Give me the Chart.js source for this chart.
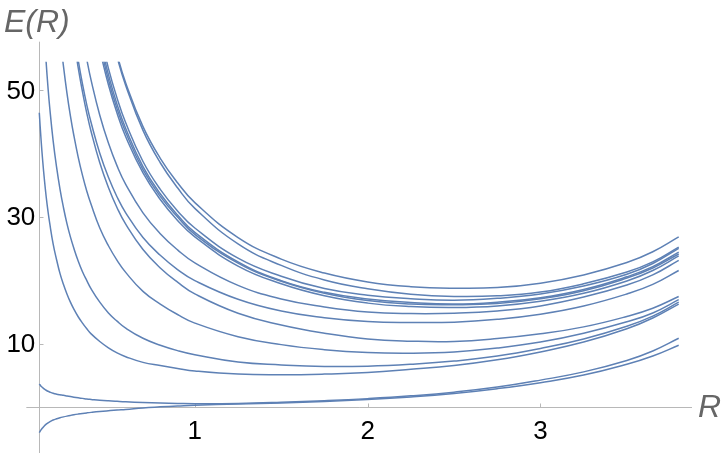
<!DOCTYPE html>
<html><head><meta charset="utf-8">
<script src="https://cdn.jsdelivr.net/npm/chart.js@4.4.0/dist/chart.umd.min.js"></script>
<style>html,body{margin:0;padding:0;background:#fff;} #wrap{width:723px;height:454px;position:relative;}</style>
</head><body><div id="wrap"><canvas id="c"></canvas></div>
<script>
// R sample points shared by every curve
const rGrid = [0.1,0.11,0.12,0.13,0.14,0.15,0.16,0.18,0.2,0.22,0.24,0.26,0.28,0.3,0.325,0.35,0.375,0.4,0.45,0.5,0.55,0.6,0.7,0.8,0.9,1.0,1.25,1.5,1.75,2.0,2.25,2.5,2.75,3.0,3.25,3.5,3.65,3.8];
const N = null;
// lowest pair
const curveB1 = [3.7,3.35,3.1,2.88,2.7,2.54,2.42,2.22,2.08,1.98,1.9,1.8,1.7,1.6,1.5,1.42,1.33,1.26,1.13,1.03,0.95,0.88,0.78,0.7,0.63,0.58,0.62,0.8,1.05,1.38,1.82,2.4,3.2,4.3,5.6,7.4,8.9,10.9];
const curveB2 = [-4.0,-3.55,-3.2,-2.9,-2.65,-2.45,-2.28,-2.0,-1.8,-1.63,-1.5,-1.38,-1.27,-1.17,-1.06,-0.96,-0.87,-0.79,-0.65,-0.53,-0.42,-0.33,-0.08,0.08,0.22,0.35,0.52,0.7,0.93,1.25,1.65,2.2,2.95,3.9,5.1,6.8,8.1,9.8];
// middle group
const curveM1 = [46.5,42.3,38.8,35.8,33.2,31.0,29.1,25.8,23.3,21.1,19.4,17.9,16.6,15.5,14.3,13.3,12.4,11.6,10.4,9.4,8.6,8.0,7.1,6.6,6.15,5.75,5.25,5.15,5.25,5.5,6.0,6.6,7.5,8.75,10.3,12.4,14.1,16.3];
const curveM2 = [N,N,63.4,58.5,54.3,50.6,47.4,42.1,37.9,34.4,31.5,29.0,26.9,25.1,23.1,21.4,20.0,18.7,16.6,14.9,13.6,12.5,10.9,9.8,8.95,8.3,7.15,6.7,6.45,6.5,6.8,7.3,8.1,9.3,10.8,12.8,14.4,16.6];
const curveM3 = [N,N,N,N,N,N,N,N,64.7,58.7,53.8,49.6,46.0,42.9,39.5,36.6,34.1,32.0,28.3,25.5,23.2,21.3,18.3,16.3,14.65,13.3,11.15,9.9,9.1,8.65,8.55,8.75,9.35,10.3,11.7,13.5,14.9,17.0];
const curveM4 = [N,N,N,N,N,N,N,N,N,N,N,N,N,58.2,53.6,49.8,46.4,43.5,38.6,34.7,31.5,28.9,24.9,22.0,19.75,17.9,14.85,13.0,11.7,10.8,10.45,10.4,10.85,11.6,12.7,14.35,15.65,17.5];
// upper group
const curveT1 = [N,N,N,N,N,N,N,N,N,N,N,N,N,59.3,54.8,51.0,47.7,44.9,40.1,36.3,33.2,30.7,26.8,24.0,21.75,20.0,17.05,15.2,14.15,13.55,13.4,13.45,13.9,14.7,16.0,17.9,19.4,21.6];
const curveT2 = [N,N,N,N,N,N,N,N,N,N,N,N,N,N,N,58.7,54.9,51.6,46.1,41.7,38.1,35.2,30.7,27.4,24.85,22.8,19.25,17.1,15.85,15.05,14.8,14.85,15.2,16.0,17.4,19.3,20.9,23.2];
const curveT3 = [N,N,N,N,N,N,N,N,N,N,N,N,N,N,N,N,N,N,56.4,50.9,46.4,42.7,37.0,32.8,29.5,26.9,22.3,19.5,17.6,16.45,15.9,15.75,16.0,16.75,18.0,19.95,21.6,23.9];
const curveT4 = [N,N,N,N,N,N,N,N,N,N,N,N,N,N,N,N,N,N,57.3,51.7,47.1,43.4,37.5,33.3,30.05,27.3,22.75,19.9,18.0,16.85,16.3,16.2,16.4,17.15,18.4,20.4,22.0,24.2];
const curveT5 = [N,N,N,N,N,N,N,N,N,N,N,N,N,N,N,N,N,N,58.2,52.5,47.8,44.0,38.0,33.7,30.35,27.6,22.95,20.0,18.15,17.1,16.55,16.3,16.6,17.3,18.6,20.6,22.2,24.5];
const curveT6 = [N,N,N,N,N,N,N,N,N,N,N,N,N,N,N,N,N,N,59.4,53.5,48.8,44.9,38.8,34.4,31.0,28.3,23.55,20.7,18.75,17.7,17.15,16.9,17.2,17.9,19.15,21.0,22.7,25.1];
const curveT7 = [N,N,N,N,N,N,N,N,N,N,N,N,N,N,N,N,N,N,N,61.1,55.7,51.2,44.3,39.3,35.45,32.3,26.8,23.4,21.2,19.8,19.05,18.8,18.9,19.6,20.9,22.85,24.55,26.9];
const curveT8 = [N,N,N,N,N,N,N,N,N,N,N,N,N,N,N,N,N,N,N,60.8,55.3,50.8,43.7,38.6,34.65,31.4,25.8,22.4,20.1,18.7,17.85,17.5,17.6,18.2,19.5,21.35,22.95,25.3];

const allCurves = [curveB1,curveB2,curveM1,curveM2,curveM3,curveM4,curveT1,curveT2,curveT3,curveT4,curveT5,curveT6,curveT7,curveT8];
const xTicks = [1,2,3];
const yTicks = [10,30,50];
const xTitle = 'R';
const yTitle = 'E(R)';
const xMin = 0.1, xMax = 3.877, yMin = -7.2, yMax = 57.7;

const lineColor = '#5E81B5';
const axisColor = '#b8b8b8';

const axesPlugin = {
  id: 'mmaAxes',
  beforeDatasetsDraw(chart) {
    const {ctx, scales: {x, y}} = chart;
    const y0 = Math.round(y.getPixelForValue(0)) + 0.5;
    const xl = Math.round(x.getPixelForValue(xMin)) + 0.5;
    ctx.save();
    ctx.strokeStyle = axisColor;
    ctx.lineWidth = 1;
    ctx.beginPath();
    ctx.moveTo(x.getPixelForValue(0.025), y0);
    ctx.lineTo(x.getPixelForValue(xMax), y0);
    ctx.moveTo(xl, y.getPixelForValue(yMax));
    ctx.lineTo(xl, y.getPixelForValue(yMin));
    xTicks.forEach(t => { const px = Math.round(x.getPixelForValue(t)) + 0.5; ctx.moveTo(px, y0); ctx.lineTo(px, y0 - 4); });
    yTicks.forEach(t => { const py = Math.round(y.getPixelForValue(t)) + 0.5; ctx.moveTo(xl, py); ctx.lineTo(xl + 4, py); });
    ctx.stroke();
    ctx.restore();
  },
  afterDraw(chart) {
    const {ctx, scales: {x, y}} = chart;
    const y0 = y.getPixelForValue(0);
    const xl = x.getPixelForValue(xMin);
    ctx.save();
    ctx.fillStyle = '#000';
    ctx.font = '26px "Liberation Sans", Arial, sans-serif';
    ctx.textAlign = 'center';
    ctx.textBaseline = 'middle';
    xTicks.forEach(t => ctx.fillText(String(t), x.getPixelForValue(t), y0 + 24));
    ctx.textAlign = 'right';
    yTicks.forEach(t => ctx.fillText(String(t), xl - 4, y.getPixelForValue(t) + 1));
    ctx.fillStyle = '#666';
    ctx.font = 'italic 32px "Liberation Sans", Arial, sans-serif';
    ctx.textAlign = 'left';
    ctx.textBaseline = 'alphabetic';
    ctx.fillText(yTitle, 4, 32);
    ctx.textBaseline = 'middle';
    ctx.fillText(xTitle, 698, y0 + 1);
    ctx.restore();
  }
};

new Chart(document.getElementById('c'), {
  type: 'line',
  data: {
    datasets: allCurves.map((vals, i) => ({
      label: 'curve ' + (i + 1),
      data: rGrid.map((r, j) => ({x: r, y: vals[j]})),
      borderColor: lineColor,
      borderWidth: 1.5,
      pointRadius: 0,
      fill: false,
      tension: 0.45,
      clip: {left: 2, top: -20, right: 2, bottom: 2}
    }))
  },
  plugins: [axesPlugin],
  options: {
    responsive: true,
    maintainAspectRatio: false,
    animation: false,
    layout: {padding: {left: 39.3, right: 31, top: 41.7, bottom: 1}},
    plugins: {legend: {display: false}, tooltip: {enabled: false}},
    scales: {
      x: {type: 'linear', min: xMin, max: xMax, display: false},
      y: {type: 'linear', min: yMin, max: yMax, display: false}
    }
  }
});
</script>
</body></html>
